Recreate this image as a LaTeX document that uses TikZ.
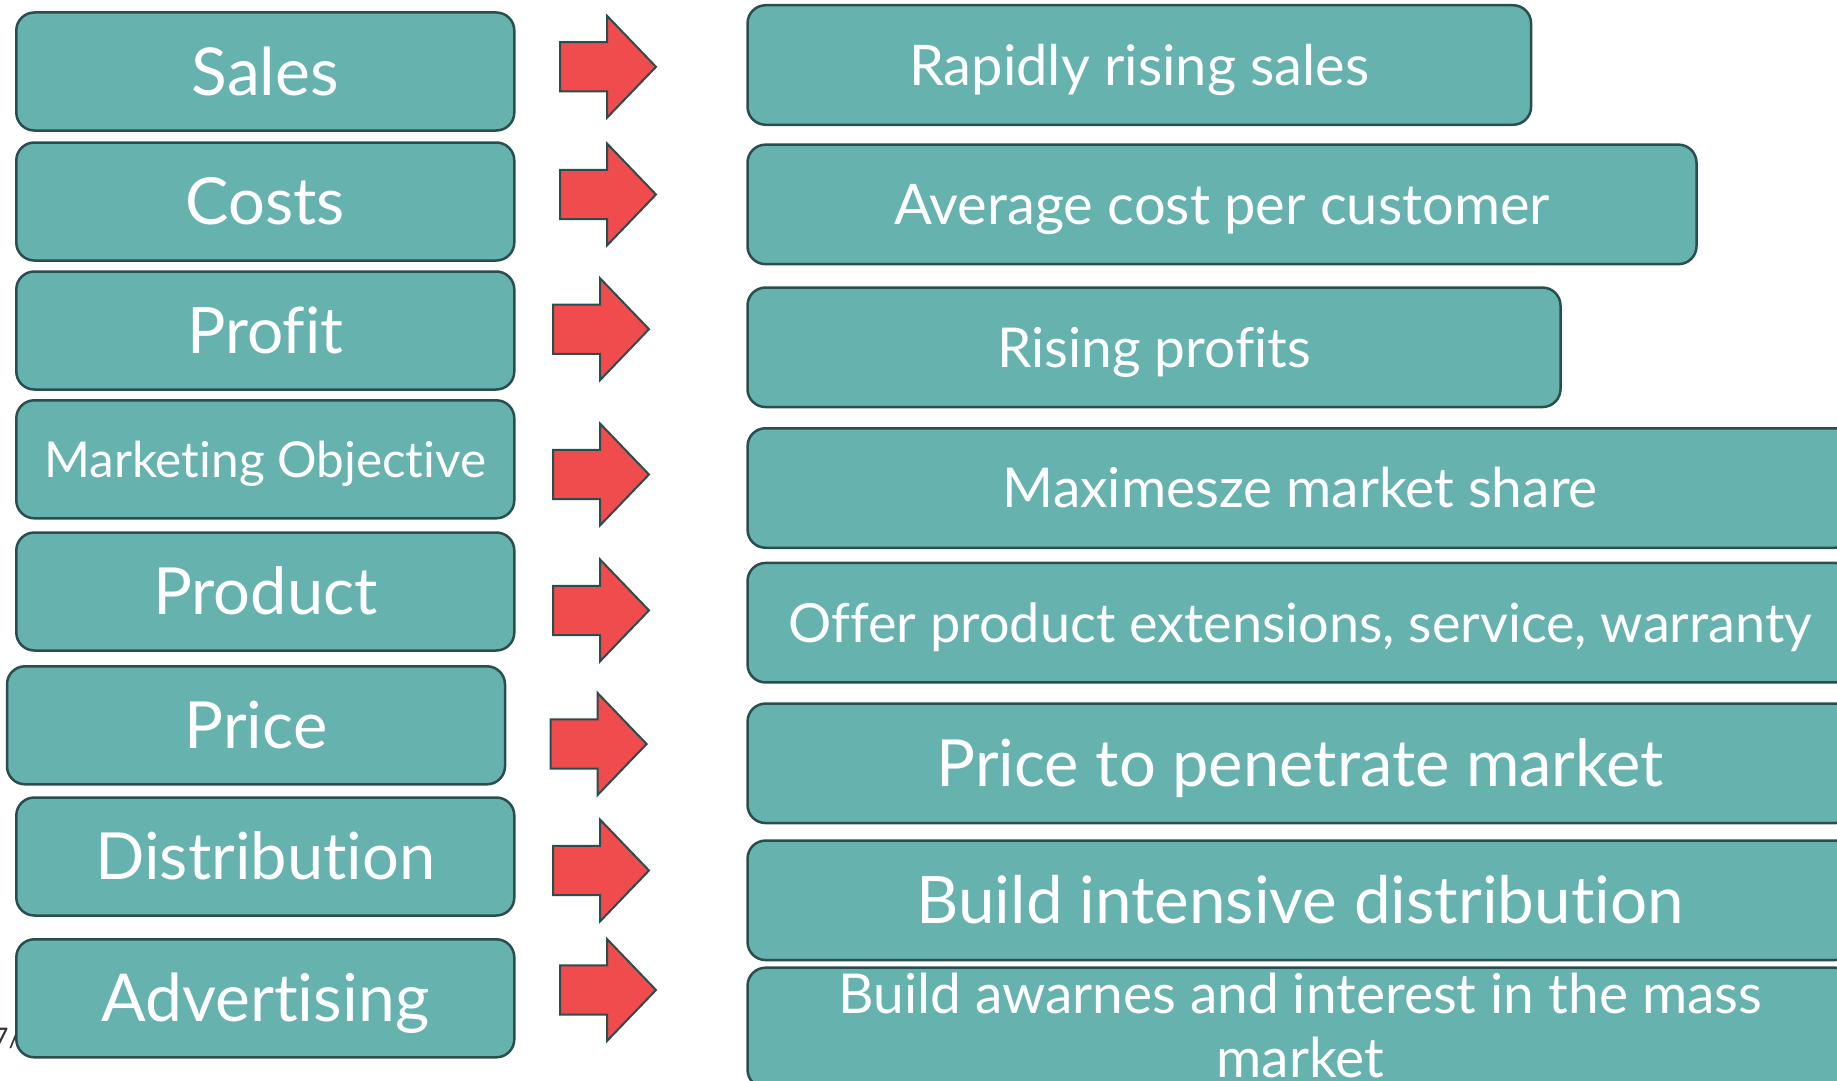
\documentclass[tikz,border=0pt]{standalone}
\usepackage{fontspec}
\setmainfont{Lato}[Ligatures=NoCommon]
\definecolor{boxfill}{HTML}{66B2AF}
\definecolor{boxline}{HTML}{2A4E4D}
\definecolor{arrowred}{HTML}{F04B4D}
\definecolor{pagenum}{HTML}{333333}
\newcommand{\fs}[1]{\fontsize{#1pt}{#1pt}\selectfont}
\tikzset{
  fsz/.style={font=\fs{#1}, text height={0.7165*#1pt}, text depth=0pt},
  leftbox/.style={draw=boxline, fill=boxfill, line width=2.5pt, rounded corners=18pt,
    minimum width=498pt, minimum height=118pt, inner sep=0pt, text=white, align=center},
  rightbox/.style={draw=boxline, fill=boxfill, line width=2.5pt, rounded corners=18pt,
    minimum height=119.5pt, inner sep=0pt, text=white, align=center},
  redarrow/.style={draw=boxline, fill=arrowred, line width=2pt, line join=miter},
  barrow/.pic={\draw[redarrow] (0,-24.6) -- (47,-24.6) -- (47,-51) -- (96,0) -- (47,51) -- (47,24.6) -- (0,24.6) -- cycle;}
}
\begin{document}
\begin{tikzpicture}[x=1pt,y=-1pt]
\useasboundingbox (0,0) rectangle (1837,1081);
\clip (0,0) rectangle (1837,1081);
% page number partly hidden
\node[anchor=base east, inner sep=0pt, text=pagenum, font=\fs{27}] (pg) at (21,1047) {7/};
% left boxes
\node[leftbox, fsz=66] (l1) at (265.3,71.5) {Sales};
\node[leftbox, fsz=65] (l2) at (265.3,201.5) {Costs};
\node[leftbox, fsz=64] (l3) at (265.3,330.5) {Profit};
\node[leftbox, fsz=49.5] (l4) at (265.3,459.3) {Marketing Objective};
\node[leftbox, fsz=65] (l5) at (265.3,591.5) {Product};
\node[leftbox, fsz=65] (l6) at (256,725.3) {Price};
\node[leftbox, fsz=65] (l7) at (265.3,856.5) {Distribution};
\node[leftbox, fsz=66] (l8) at (265.3,998.3) {Advertising};
% right boxes
\node[rightbox, minimum width=783.5pt, fsz=56] (r1) at (1139.3,65) {Rapidly rising sales};
\node[rightbox, minimum width=949pt, fsz=56] (r2) at (1222,204.4) {Average cost per customer};
\node[rightbox, minimum width=813pt, fsz=55] (r3) at (1154,347.3) {Rising profits};
\node[rightbox, minimum width=1105.5pt, fsz=55] (r4) at (1300.3,488) {Maximesze market share};
\node[rightbox, minimum width=1105.5pt, fsz=54] (r5) at (1300.3,622.7) {Offer product extensions, service, warranty};
\node[rightbox, minimum width=1105.5pt, fsz=65] (r6) at (1300.3,763.3) {Price to penetrate market};
\node[rightbox, minimum width=1105.5pt, fsz=65.5] (r7) at (1300.3,900.3) {Build intensive distribution};
\node[rightbox, minimum width=1105.5pt, minimum height=120pt] (r8) at (1300.3,1027.7) {};
\node[anchor=base, inner sep=0pt, text=white, align=center, font=\fontsize{55pt}{64pt}\selectfont] (r8t) at (1300.3,1077) {Build awarnes and interest in the mass\\market};
% arrows
\coordinate (a1) at (560,66.8);
\coordinate (a2) at (560,194.5);
\coordinate (a3) at (553,329.2);
\coordinate (a4) at (553,474.5);
\coordinate (a5) at (553,610.4);
\coordinate (a6) at (550.6,744);
\coordinate (a7) at (553,870.5);
\coordinate (a8) at (560,990);
\foreach \a in {a1,a2,a3,a4,a5,a6,a7,a8} { \pic at (\a) {barrow}; }
\end{tikzpicture}
\end{document}
